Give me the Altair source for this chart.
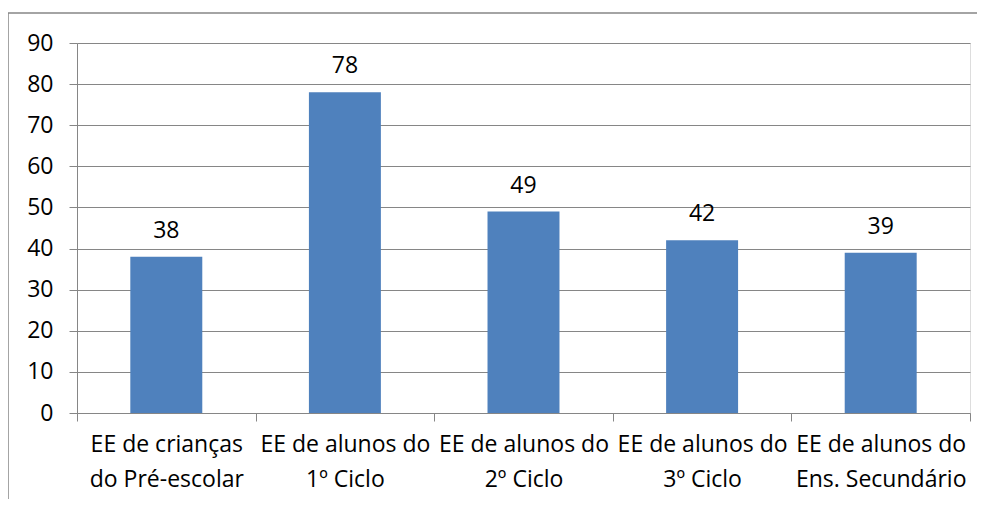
import altair as alt
import pandas as pd

categories = [
    "EE de crianças\ndo Pré-escolar",
    "EE de alunos do\n1º Ciclo",
    "EE de alunos do\n2º Ciclo",
    "EE de alunos do\n3º Ciclo",
    "EE de alunos do\nEns. Secundário",
]
values = [38, 78, 49, 42, 39]
y_ticks = [0, 10, 20, 30, 40, 50, 60, 70, 80, 90]

df = pd.DataFrame({"cat": categories, "val": values})

FONT = "Open Sans"
FS = 23
GRAY = "#868686"

x_enc = alt.X(
    "cat:N",
    sort=categories,
    scale=alt.Scale(paddingInner=0, paddingOuter=0),
    axis=alt.Axis(
        title=None,
        labelAngle=0,
        labelExpr="split(datum.label, '\\n')",
        labelFont=FONT,
        labelFontSize=FS,
        labelColor="black",
        labelLineHeight=35,
        labelPadding=12,
        tickBand="extent",
        tickSize=8,
        tickColor=GRAY,
        domainColor=GRAY,
        grid=False,
    ),
)

y_enc = alt.Y(
    "val:Q",
    scale=alt.Scale(domain=[0, 90], nice=False),
    axis=alt.Axis(
        title=None,
        values=y_ticks,
        labelFont=FONT,
        labelFontSize=FS,
        labelColor="black",
        labelPadding=16,
        tickSize=8,
        tickColor=GRAY,
        domainColor=GRAY,
        gridColor=GRAY,
        gridWidth=1,
    ),
)

base = alt.Chart(df)

bars = base.mark_bar(color="#4F81BD", width=alt.RelativeBandSize(0.403)).encode(
    x=x_enc, y=y_enc
)

labels = base.mark_text(
    baseline="bottom", dy=-14, font=FONT, fontSize=FS, color="black"
).encode(x=alt.X("cat:N", sort=categories), y="val:Q", text="val:Q")

border = alt.Chart(pd.DataFrame({"a": [0]})).mark_rect(
    fill="transparent", stroke=GRAY, strokeWidth=1.5
).encode(
    x=alt.value(-69), x2=alt.value(1000), y=alt.value(-30), y2=alt.value(700)
)

chart = (
    alt.layer(border, bars, labels)
    .properties(
        width=893,
        height=370,
        autosize=alt.AutoSizeParams(type="none"),
        padding={"left": 69, "top": 35, "right": 7, "bottom": 86},
    )
    .configure_view(stroke=None)
    .configure(background="white")
)

chart.save("out.html", embed_options={"renderer": "svg", "actions": False})
